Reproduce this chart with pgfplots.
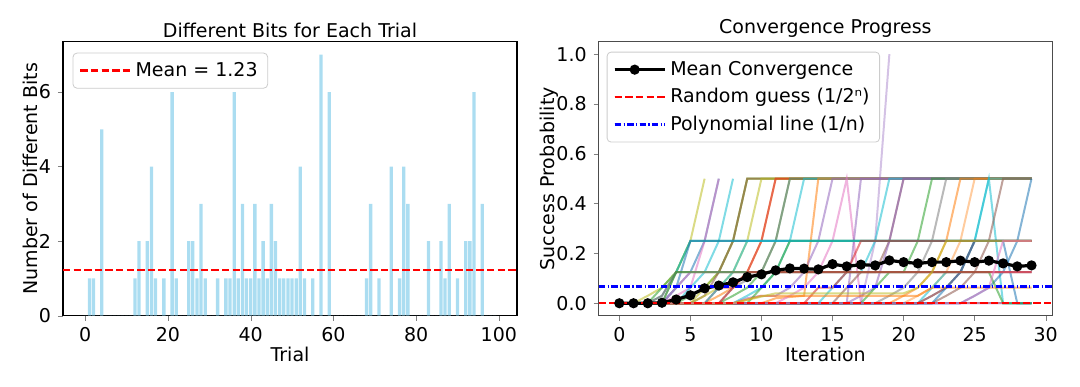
\documentclass[border=0pt]{standalone}
\usepackage{fontspec}
\setmainfont{DejaVu Sans}
\usepackage{pgfplots}
\pgfplotsset{compat=1.18}

% matplotlib tab10
\definecolor{C0}{HTML}{1F77B4}
\definecolor{C1}{HTML}{FF7F0E}
\definecolor{C2}{HTML}{2CA02C}
\definecolor{C3}{HTML}{D62728}
\definecolor{C4}{HTML}{9467BD}
\definecolor{C5}{HTML}{8C564B}
\definecolor{C6}{HTML}{E377C2}
\definecolor{C7}{HTML}{7F7F7F}
\definecolor{C8}{HTML}{BCBD22}
\definecolor{C9}{HTML}{17BECF}
\definecolor{skyblue}{HTML}{87CEEB}

\pgfplotsset{
  base/.style={
    scale only axis, height=137pt,
    font=\fontsize{9.5}{11.5}\selectfont,
    /pgf/number format/assume math mode=true,
    tick align=outside, tick pos=left, major tick length=2.5pt,
    axis line style={line width=0.55pt},
    title style={font=\fontsize{9.5}{11.5}\selectfont, yshift=-7.5pt},
    xlabel style={yshift=4.5pt},
    legend cell align=left,
    legend style={font=\fontsize{9.5}{11.5}\selectfont, draw=black!20, rounded corners=2pt,
      fill=white, fill opacity=0.8, text opacity=1, row sep=1pt,
      inner xsep=3pt, inner ysep=2.5pt},
    legend image code/.code={\draw[mark repeat=2,mark phase=2,##1] plot coordinates {(0pt,0pt) (10pt,0pt) (20pt,0pt)};
      \path (0pt,0pt) -- (25pt,0pt);},
  },
  trial/.style={forget plot, line width=1pt, opacity=0.55, #1},
}

\begin{document}
\begin{tikzpicture}
\path (-31.5pt,-35.15pt) rectangle (508.5pt,157.85pt);

\begin{axis}[base, width=227pt,
  title={Different Bits for Each Trial},
  xlabel={Trial}, ylabel={Number of Different Bits},
  ylabel style={yshift=-6.5pt},
  xmin=-5.39, xmax=104.39, ymin=0, ymax=7.35,
  xtick={0,20,40,60,80,100}, ytick={0,2,4,6},
  legend style={at={(0,1)}, anchor=north west, xshift=4.8pt, yshift=-5.5pt},
]
\addplot[ybar, bar width=0.8, fill=skyblue, fill opacity=0.7, draw=none, forget plot] coordinates {
(0,0) (1,1) (2,1) (3,0) (4,5) (5,0) (6,0) (7,0) (8,0) (9,0)
(10,0) (11,0) (12,1) (13,2) (14,0) (15,2) (16,4) (17,1) (18,0) (19,1)
(20,0) (21,6) (22,1) (23,0) (24,0) (25,2) (26,2) (27,1) (28,3) (29,1)
(30,0) (31,0) (32,1) (33,0) (34,1) (35,1) (36,6) (37,1) (38,3) (39,1)
(40,1) (41,3) (42,1) (43,2) (44,1) (45,3) (46,2) (47,1) (48,1) (49,1)
(50,1) (51,1) (52,4) (53,1) (54,0) (55,1) (56,0) (57,7) (58,0) (59,6)
(60,0) (61,0) (62,0) (63,0) (64,0) (65,0) (66,0) (67,0) (68,1) (69,3)
(70,0) (71,1) (72,0) (73,0) (74,4) (75,0) (76,1) (77,4) (78,3) (79,0)
(80,0) (81,0) (82,0) (83,2) (84,0) (85,0) (86,2) (87,1) (88,3) (89,0)
(90,1) (91,0) (92,2) (93,2) (94,6) (95,0) (96,3) (97,0) (98,0) (99,0)};
\addplot[red, line width=1.3pt, dash pattern=on 3.7pt off 1.6pt] coordinates {(-5.39,1.23) (104.39,1.23)};
\addlegendentry{Mean = 1.23}
\end{axis}

\begin{axis}[base, width=226.7pt, at={(267.85pt,0pt)},
  axis line style={black!70},
  title={Convergence Progress},
  xlabel={Iteration}, ylabel={Success Probability},
  ylabel style={yshift=-8pt},
  xmin=-1.45, xmax=30.45, ymin=-0.05, ymax=1.05,
  xtick={0,5,10,15,20,25,30}, ytick={0,0.2,0.4,0.6,0.8,1.0},
  yticklabel style={/pgf/number format/.cd, fixed, fixed zerofill, precision=1},
  legend style={at={(0,1)}, anchor=north west, xshift=4pt, yshift=-5pt},
]
% individual trials
\addplot[trial=C7] coordinates {(0,0) (29,0)};
\addplot[trial=C5] coordinates {(0,0) (29,0)};
\addplot[trial=C8] coordinates {(0,0) (1,0) (2,0.03) (3,0.0625) (4,0.125) (5,0.25) (6,0.5)};
\addplot[trial=C0] coordinates {(0,0) (3,0) (4,0.0625) (5,0.125) (6,0.25) (7,0.5)};
\addplot[trial=C6] coordinates {(0,0) (3,0) (4,0.03) (5,0.0625) (6,0.25) (7,0.5)};
\addplot[trial=C9] coordinates {(0,0) (4,0) (5,0.0625) (6,0.125) (7,0.25) (8,0.5)};
\addplot[trial=C2] coordinates {(0,0) (4,0) (5,0.03) (6,0.0625) (7,0.125) (8,0.25) (9,0.5) (29,0.5)};
\addplot[trial=C8] coordinates {(0,0) (5,0) (6,0.0625) (7,0.125) (8,0.25) (9,0.5) (29,0.5)};
\addplot[trial=C5] coordinates {(0,0) (5,0) (6,0.03) (7,0.125) (8,0.25) (9,0.5) (29,0.5)};
\addplot[trial=C8] coordinates {(0,0) (5,0) (6,0.03) (7,0.0625) (8,0.125) (9,0.25) (10,0.5) (29,0.5)};
\addplot[trial=C1] coordinates {(0,0) (6,0) (7,0.03) (8,0.0625) (9,0.125) (10,0.25) (11,0.5) (29,0.5)};
\addplot[trial=C3] coordinates {(0,0) (6,0) (7,0.0625) (8,0.0625) (9,0.125) (10,0.25) (11,0.5) (29,0.5)};
\addplot[trial=C2] coordinates {(0,0) (7,0) (8,0.03) (9,0.0625) (10,0.125) (11,0.25) (12,0.5) (29,0.5)};
\addplot[trial=C7] coordinates {(0,0) (7,0) (8,0.0625) (10,0.125) (11,0.25) (12,0.5) (29,0.5)};
\addplot[trial=C9] coordinates {(0,0) (8,0) (9,0.03) (10,0.0625) (11,0.125) (12,0.25) (13,0.5) (29,0.5)};
\addplot[trial=C1] coordinates {(0,0) (10,0) (11,0.02) (13,0.03) (14,0.5) (29,0.5)};
\addplot[trial=C4] coordinates {(0,0) (8,0) (9,0.02) (10,0.03) (11,0.03) (12,0.0625) (13,0.125) (14,0.25) (15,0.5) (29,0.5)};
\addplot[trial=C6] coordinates {(0,0) (11,0) (12,0.03) (13,0.0625) (14,0.125) (15,0.25) (16,0.5) (17,0) (29,0)};
\addplot[trial=C4] coordinates {(0,0) (16,0) (17,0.5) (29,0.5)};
\addplot[trial=C4, opacity=0.4] coordinates {(0,0) (17,0) (18,0.25) (19,1.0)};
\addplot[trial=C9] coordinates {(0,0) (14,0) (15,0.0625) (16,0.125) (17,0.125) (18,0.25) (19,0.5) (29,0.5)};
\addplot[trial=C5] coordinates {(0,0) (15,0) (16,0.0625) (17,0.125) (18,0.125) (19,0.25) (20,0.5) (29,0.5)};
\addplot[trial=C4] coordinates {(0,0) (16,0) (17,0.03) (18,0.0625) (19,0.25) (20,0.5) (29,0.5)};
\addplot[trial=C2] coordinates {(0,0) (17,0) (18,0.0625) (19,0.125) (20,0.125) (21,0.25) (22,0.5) (29,0.5)};
\addplot[trial=C7] coordinates {(0,0) (18,0) (19,0.03) (20,0.0625) (21,0.125) (22,0.25) (23,0.5) (29,0.5)};
\addplot[trial=C1] coordinates {(0,0) (19,0) (20,0.03) (21,0.0625) (22,0.125) (23,0.25) (24,0.5) (29,0.5)};
\addplot[trial=C1, opacity=0.4] coordinates {(0,0) (20,0) (21,0.03) (22,0.0625) (23,0.125) (24,0.25) (25,0.5) (29,0.5)};
\addplot[trial=C9] coordinates {(0,0) (21,0) (22,0.0625) (23,0.125) (24,0.125) (25,0.25) (26,0.5) (27,0) (29,0)};
\addplot[trial=C9] coordinates {(0,0) (21,0) (22,0.03) (23,0.0625) (24,0.125) (25,0.25) (26,0.5) (29,0.5)};
\addplot[trial=C5] coordinates {(0,0) (22,0) (23,0.03) (24,0.0625) (25,0.125) (26,0.25) (27,0.5) (29,0.5)};
\addplot[trial=C0] coordinates {(0,0) (24,0) (25,0.03) (26,0.0625) (27,0.125) (28,0.25) (29,0.5)};
% plateaus at 0.25
\addplot[trial=C2] coordinates {(0,0) (2,0) (3,0.0625) (4,0.125) (5,0.25) (29,0.25)};
\addplot[trial=C9] coordinates {(0,0) (2,0) (3,0.03) (4,0.125) (5,0.25) (29,0.25)};
\addplot[trial=C0] coordinates {(0,0) (3,0) (4,0.0625) (5,0.25) (29,0.25)};
\addplot[trial=C2] coordinates {(0,0) (9,0) (10,0.0625) (11,0.125) (12,0.25) (29,0.25)};
\addplot[trial=C9] coordinates {(0,0) (6,0) (7,0.0625) (8,0.125) (9,0.25) (29,0.25)};
\addplot[trial=C3] coordinates {(0,0) (13,0) (14,0.0625) (15,0.0625) (16,0.125) (17,0.25) (29,0.25)};
\addplot[trial=C3] coordinates {(0,0) (21,0) (22,0.03) (23,0.0625) (24,0.125) (25,0.25) (29,0.25)};
\addplot[trial=C0] coordinates {(0,0) (22,0) (23,0.0625) (24,0.125) (25,0.25) (27,0.25) (28,0) (29,0)};
% plateaus at 0.125
\addplot[trial=C5] coordinates {(0,0) (2,0) (3,0.03) (4,0.125) (29,0.125)};
\addplot[trial=C7] coordinates {(0,0) (3,0) (4,0.125) (29,0.125)};
\addplot[trial=C6] coordinates {(0,0) (3,0) (4,0.0625) (5,0.125) (29,0.125)};
\addplot[trial=C2] coordinates {(0,0) (3,0) (4,0.125) (26,0.125) (27,0) (29,0)};
\addplot[trial=C3] coordinates {(0,0) (7,0) (8,0.0625) (9,0.125) (29,0.125)};
% low levels
\addplot[trial=C1] coordinates {(0,0) (8,0) (10,0.03) (21,0.03) (22,0.0625) (29,0.0625)};
\addplot[trial=C8] coordinates {(0,0) (8,0) (11,0.04) (20,0.04) (21,0.0625) (22,0.125) (23,0.25) (29,0.25)};
\addplot[trial=C6] coordinates {(0,0) (24,0) (25,0.03) (26,0.0625) (27,0.25) (29,0.25)};

% mean convergence
\addplot[black, line width=1.6pt, mark=*, mark size=1.7pt] coordinates {
(0,0) (1,0) (2,0) (3,0.002) (4,0.015) (5,0.032) (6,0.06) (7,0.071) (8,0.084) (9,0.105)
(10,0.116) (11,0.132) (12,0.14) (13,0.139) (14,0.136) (15,0.157) (16,0.148) (17,0.155) (18,0.152) (19,0.172)
(20,0.165) (21,0.16) (22,0.165) (23,0.165) (24,0.171) (25,0.165) (26,0.171) (27,0.16) (28,0.148) (29,0.152)};
\addlegendentry{Mean Convergence}
\addplot[red, line width=1.2pt, dash pattern=on 3.7pt off 1.6pt] coordinates {(-1.45,0.00003) (30.45,0.00003)};
\addlegendentry{Random guess (1/2ⁿ)}
\addplot[blue, line width=1.2pt, dash pattern=on 3.2pt off 1.2pt on 0.6pt off 1.2pt] coordinates {(-1.45,0.0667) (30.45,0.0667)};
\addlegendentry{Polynomial line (1/n)}
\end{axis}
\end{tikzpicture}
\end{document}
